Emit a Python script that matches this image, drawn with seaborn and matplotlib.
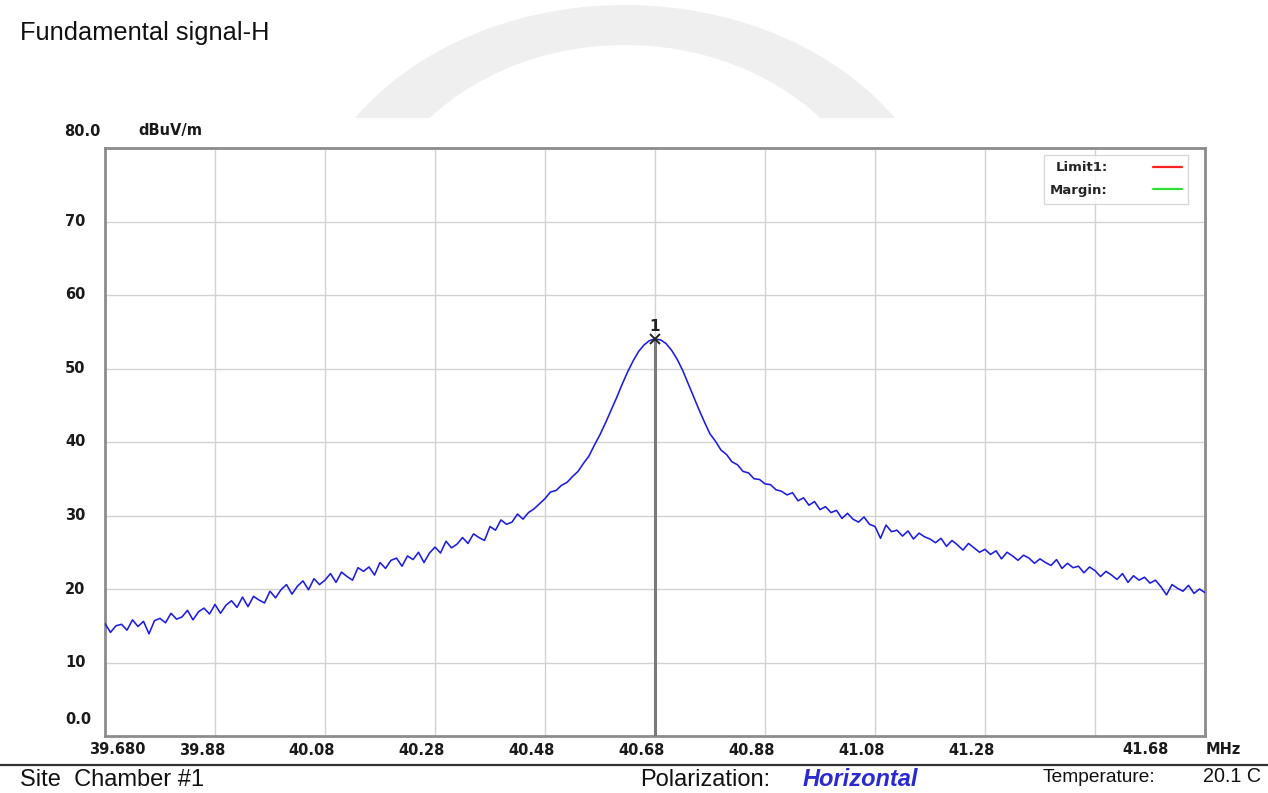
import matplotlib
matplotlib.use("Agg")

import matplotlib.pyplot as plt
import matplotlib.transforms as mtransforms
import numpy as np
import pandas as pd
import seaborn as sns
from matplotlib.patches import Ellipse


# sweep grid (start / stop / step of the receiver)
FREQ_START_MHZ = 39.68
FREQ_STOP_MHZ = 41.68
FREQ_STEP_MHZ = 0.01

# field strength, dBuV/m, one value per 0.01 MHz
LEVEL_DBUV = [
    15.3, 14.1, 15.0, 15.2, 14.4, 15.8, 14.9, 15.6, 13.9, 15.7,
    16.0, 15.4, 16.7, 15.9, 16.2, 17.1, 15.8, 16.9, 17.4, 16.6,
    17.9, 16.7, 17.8, 18.4, 17.5, 18.9, 17.6, 19.0, 18.5, 18.1,
    19.7, 18.8, 19.9, 20.6, 19.3, 20.4, 21.1, 19.9, 21.4, 20.6,
    21.2, 22.1, 20.9, 22.3, 21.7, 21.2, 22.9, 22.4, 23.0, 21.9,
    23.6, 22.8, 23.9, 24.2, 23.1, 24.5, 24.0, 25.0, 23.6, 24.9,
    25.7, 24.9, 26.5, 25.6, 26.1, 27.0, 26.2, 27.5, 27.0, 26.6,
    28.5, 28.0, 29.4, 28.8, 29.1, 30.2, 29.5, 30.4, 30.9, 31.6,
    32.3, 33.2, 33.4, 34.1, 34.5, 35.3, 36.0, 37.1, 38.1, 39.6,
    41.0, 42.6, 44.3, 46.0, 47.8, 49.5, 51.0, 52.3, 53.2, 53.8,
    54.0, 53.9, 53.4, 52.5, 51.3, 49.8, 48.0, 46.2, 44.4, 42.7,
    41.1, 40.1, 38.9, 38.3, 37.3, 36.9, 36.0, 35.8, 35.0, 34.9,
    34.3, 34.2, 33.5, 33.3, 32.8, 33.1, 32.0, 32.4, 31.4, 31.9,
    30.8, 31.2, 30.4, 30.7, 29.6, 30.3, 29.5, 29.1, 29.8, 28.8,
    28.5, 26.9, 28.7, 27.8, 28.0, 27.2, 27.9, 26.8, 27.6, 27.1,
    26.8, 26.3, 26.9, 25.8, 26.6, 26.0, 25.3, 26.2, 25.6, 25.0,
    25.4, 24.7, 25.2, 24.1, 25.0, 24.5, 23.9, 24.6, 24.2, 23.5,
    24.1, 23.6, 23.2, 24.0, 22.8, 23.5, 22.9, 23.1, 22.2, 23.0,
    22.5, 21.7, 22.4, 21.9, 21.3, 22.1, 20.9, 21.8, 21.2, 21.6,
    20.8, 21.2, 20.3, 19.2, 20.6, 20.1, 19.7, 20.5, 19.4, 20.0,
    19.5,
]

Y_MIN, Y_MAX = 0.0, 80.0
Y_TICKS = [10, 20, 30, 40, 50, 60, 70]
X_GRID = [39.88, 40.08, 40.28, 40.48, 40.68, 40.88, 41.08, 41.28, 41.48]
X_LABELS = ["39.88", "40.08", "40.28", "40.48", "40.68", "40.88", "41.08", "41.28", ""]

TITLE = "Fundamental signal-H"
UNIT_Y = "dBuV/m"
UNIT_X = "MHz"
MARKER_LABEL = "1"
LIMIT_ITEMS = [("Limit1:", "#ff2020"), ("Margin:", "#30e030")]

W, H = 1268, 793


def px(x, y):
    """pixel position (top-left origin) -> figure fraction"""
    return x / W, 1 - y / H


freq = np.round(np.arange(len(LEVEL_DBUV)) * FREQ_STEP_MHZ + FREQ_START_MHZ, 2)
df = pd.DataFrame({"freq": freq, "level": LEVEL_DBUV})

sns.set_style("white")
plt.rcParams["font.family"] = ["Liberation Sans", "DejaVu Sans"]

fig = plt.figure(figsize=(W / 100, H / 100), dpi=100)

# faint watermark arc behind the header
bg = fig.add_axes([0, 1 - 118 / H, 1, 118 / H], zorder=0)
bg.set_xlim(0, W)
bg.set_ylim(118, 0)
bg.axis("off")
bg.add_patch(Ellipse((625, 260), 650, 510, facecolor="#efefef", edgecolor="none"))
bg.add_patch(Ellipse((625, 260), 520, 430, facecolor="white", edgecolor="none"))

left, right, top, bottom = 105, 1205, 148, 736
ax = fig.add_axes([left / W, 1 - bottom / H, (right - left) / W, (bottom - top) / H], zorder=2)

sns.lineplot(data=df, x="freq", y="level", ax=ax, color="#1c1ce0",
             linewidth=1.15, estimator=None, zorder=3)

ax.set_xlim(FREQ_START_MHZ, FREQ_STOP_MHZ)
ax.set_ylim(Y_MIN, Y_MAX)
ax.set_xticks(X_GRID)
ax.set_yticks(Y_TICKS)
ax.set_xticklabels([])
ax.set_yticklabels([])
ax.tick_params(length=0)
ax.grid(True, color="#d2d2d2", linewidth=1.0)
ax.set_xlabel("")
ax.set_ylabel("")
for sp in ax.spines.values():
    sp.set_visible(True)
    sp.set_color("#8c8c8c")
    sp.set_linewidth(2.0)

# marker 1 at the peak
peak = df.loc[df["level"].idxmax()]
ax.vlines(peak["freq"], Y_MIN, peak["level"], color="#7a7a7a", linewidth=2.2, zorder=4)
ax.plot(peak["freq"], peak["level"], marker="x", color="#222222", markersize=7,
        markeredgewidth=1.4, zorder=5)
ax.annotate(MARKER_LABEL, (peak["freq"], peak["level"]), xytext=(0, 4),
            textcoords="offset points", ha="center", va="bottom",
            fontsize=11, fontweight="bold", family="DejaVu Sans", color="#222222")

# tick labels in the analyser's bold style
tick_font = dict(family="DejaVu Sans", fontweight="bold", fontsize=10.5, color="#1a1a1a")
yt = mtransforms.blended_transform_factory(ax.transAxes, ax.transData)
for v in Y_TICKS:
    ax.text((65 - left) / (right - left), v, str(v), transform=yt,
            ha="left", va="center", **tick_font)

xt = mtransforms.blended_transform_factory(ax.transData, ax.transAxes)
shift = mtransforms.ScaledTranslation(10 / 100, 0, fig.dpi_scale_trans)
for v, lab in zip(X_GRID, X_LABELS):
    if lab:
        ax.text(v, -0.012, lab, transform=xt + shift, ha="right", va="top", **tick_font)

fig.text(*px(64, 131), f"{Y_MAX:.1f}", ha="left", va="center", **tick_font)
fig.text(*px(65, 720), f"{Y_MIN:.1f}", ha="left", va="center", **tick_font)
fig.text(*px(138, 131), UNIT_Y, ha="left", va="center", **tick_font)
fig.text(*px(146, 750), f"{FREQ_START_MHZ:.3f}", ha="right", va="center", **tick_font)
fig.text(*px(1169, 750), f"{FREQ_STOP_MHZ:.2f}", ha="right", va="center", **tick_font)
fig.text(*px(1206, 750), UNIT_X, ha="left", va="center", **tick_font)

# limit/margin legend box
for label, color in LIMIT_ITEMS:
    ax.plot([], [], color=color, linewidth=1.6, label=label)
leg = ax.legend(loc="upper right", bbox_to_anchor=(1 - 10 / 1100, 1.0), markerfirst=False,
                frameon=True, fancybox=False, handlelength=2.2, handletextpad=3.4,
                borderpad=0.5, labelspacing=0.75,
                prop=dict(family="DejaVu Sans", weight="bold", size=9.5))
leg.get_frame().set_edgecolor("#d0d0d0")
leg.get_frame().set_linewidth(1.0)

# header and footer
fig.text(*px(20, 33), TITLE, ha="left", va="center", fontsize=18.3, color="#111111")
fig.add_artist(plt.Line2D([0, 1], [1 - 765 / H] * 2, color="#333333", linewidth=1.6))
fig.text(*px(20, 780), "Site  Chamber #1", ha="left", va="center", fontsize=17, color="#111111")
fig.text(*px(640, 780), "Polarization:", ha="left", va="center", fontsize=17, color="#111111")
fig.text(*px(803, 780), "Horizontal", ha="left", va="center", fontsize=17,
         fontweight="bold", fontstyle="italic", color="#2a2ad0")
fig.text(*px(1043, 777), "Temperature:", ha="left", va="center", fontsize=13.8, color="#111111")
fig.text(*px(1203, 777), "20.1 C", ha="left", va="center", fontsize=14.2, color="#111111")

fig.savefig("out.png", dpi=100)
